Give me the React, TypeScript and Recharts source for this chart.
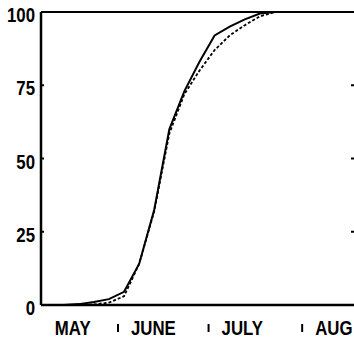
import { LineChart, Line, XAxis, YAxis } from "recharts";

// days counted from 1 May, sampled every five days
const days = [13, 18, 23, 28, 33, 38, 43, 48, 53, 58, 63, 68, 73, 78, 83, 88, 93, 98, 103, 108];
const observed = [0, 0.3, 1, 2, 4.5, 14, 32.5, 60, 73, 83, 92, 95, 97.5, 99.5, 100, 100, 100, 100, 100, 100];
const expected = [0, 0, 0.2, 0.8, 3, 14, 32, 58.5, 72, 80, 87, 92, 95.5, 98.5, 100, 100, 100, 100, 100, 100];

// first entry is the middle of May, the rest are month starts
const monthTicks = [16, 31, 61, 92];
const monthLabels = ["MAY", "JUNE", "JULY", "AUG"];
const percentTicks = [0, 25, 50, 75, 100];
const innerTicks = [25, 50, 75];

const data = days.map((d, i) => ({ day: d, observed: observed[i], expected: expected[i] }));

const font = "'Liberation Sans', Arial, sans-serif";

// bold sans squeezed horizontally to get the narrow lettering
const Narrow = ({ x, y, anchor, children }: any) => (
  <text
    transform={`translate(${x},${y}) scale(0.8,1)`}
    textAnchor={anchor}
    fontFamily={font}
    fontWeight="bold"
    fontSize={21}
    fill="#000"
  >
    {children}
  </text>
);

const MonthTick = (props: any) => {
  const { x, y, index } = props;
  const label = monthLabels[index];
  if (index === 0) {
    return <Narrow x={x} y={y + 30} anchor="middle">{label}</Narrow>;
  }
  return (
    <g>
      <line x1={x} x2={x} y1={y + 19} y2={y + 27} stroke="#000" strokeWidth={2} />
      <Narrow x={x + 13} y={y + 30} anchor="start">{label}</Narrow>
    </g>
  );
};

const PercentTick = (props: any) => {
  const { x, y, payload } = props;
  return (
    <g>
      <line x1={x} x2={x + 3} y1={y} y2={y} stroke="#000" strokeWidth={2} />
      <Narrow x={x - 6} y={y + 10} anchor="end">{payload.value}</Narrow>
    </g>
  );
};

// short inward ticks on the right frame, which sits just past the edge
const RightTick = (props: any) => {
  const { x, y } = props;
  return <line x1={x - 4} x2={x - 1} y1={y} y2={y} stroke="#000" strokeWidth={2} />;
};

export default function App() {
  return (
    <div style={{ position: "absolute", left: 0, top: 0, width: 354, height: 340, overflow: "hidden", background: "#fff" }}>
      <LineChart width={360} height={340} data={data} margin={{ top: 0, right: 0, bottom: 0, left: 0 }}>
        <XAxis
          dataKey="day"
          type="number"
          domain={[5.5, 109.5]}
          allowDataOverflow
          ticks={monthTicks}
          height={35}
          tickSize={0}
          tickMargin={0}
          tickLine={false}
          axisLine={{ stroke: "#000", strokeWidth: 2.5 }}
          tick={<MonthTick />}
        />
        <XAxis
          xAxisId="top"
          dataKey="day"
          type="number"
          domain={[5.5, 109.5]}
          orientation="top"
          height={12}
          tick={false}
          tickLine={false}
          axisLine={{ stroke: "#000", strokeWidth: 2 }}
        />
        <YAxis
          yAxisId="v"
          domain={[0, 100]}
          ticks={percentTicks}
          width={41}
          tickSize={0}
          tickMargin={0}
          tickLine={false}
          axisLine={{ stroke: "#000", strokeWidth: 2.5 }}
          tick={<PercentTick />}
        />
        <YAxis
          yAxisId="r"
          orientation="right"
          domain={[0, 100]}
          ticks={innerTicks}
          interval={0}
          width={5}
          tickSize={0}
          tickMargin={0}
          tickLine={false}
          axisLine={false}
          tick={<RightTick />}
        />
        <Line
          yAxisId="r"
          type="linear"
          dataKey="expected"
          stroke="#000"
          strokeWidth={1.8}
          strokeDasharray="3 2"
          dot={false}
          isAnimationActive={false}
        />
        <Line
          yAxisId="v"
          type="linear"
          dataKey="observed"
          stroke="#000"
          strokeWidth={2}
          dot={false}
          isAnimationActive={false}
        />
      </LineChart>
    </div>
  );
}
